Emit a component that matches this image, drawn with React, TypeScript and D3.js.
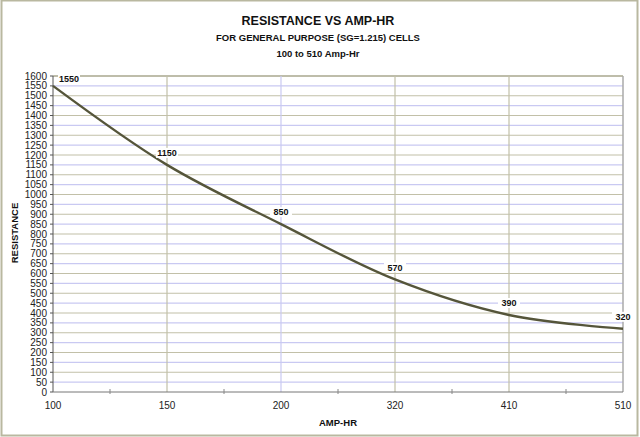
import React, { useEffect } from 'react'
import * as d3 from 'd3'

const categories = ['100', '150', '200', '320', '410', '510']
const resistance = [1550, 1150, 850, 570, 390, 320]
const yTicks = d3.range(0, 1601, 50)

const width = 640
const height = 437
const margin = { left: 53, right: 17, top: 76, bottom: 45 }

const font = '"Liberation Sans", Arial, sans-serif'
const gray = '#c2c0a8'
const blue = '#c9c9f2'

export default function App() {
  useEffect(() => {
    document.body.style.margin = '0'
  }, [])

  const x = d3.scalePoint<string>()
    .domain(categories)
    .range([margin.left, width - margin.right])
  const y = d3.scaleLinear()
    .domain([0, 1600])
    .range([height - margin.bottom, margin.top])

  const points: [number, number][] = categories.map((c, i) => [x(c)!, y(resistance[i])])
  const line = d3.line().curve(d3.curveCatmullRom.alpha(0.5))
  const step = x.step()
  const x0 = margin.left
  const x1 = width - margin.right
  const y0 = height - margin.bottom
  const y1 = margin.top

  return (
    <svg width={width} height={height} style={{ display: 'block', fontFamily: font }}>
      <rect x={0} y={0} width={width} height={height} fill='white' />
      <rect x={1.5} y={0.5} width={636} height={435} fill='none' stroke='#b9b8a0' strokeWidth={2} />

      <text x={318} y={25} textAnchor='middle' fontSize={12.5} fontWeight='bold' fill='#111'>RESISTANCE VS AMP-HR</text>
      <text x={318} y={41} textAnchor='middle' fontSize={9.5} fontWeight='bold' fill='#111'>FOR GENERAL PURPOSE (SG=1.215) CELLS</text>
      <text x={318} y={57} textAnchor='middle' fontSize={9.5} fontWeight='bold' fill='#111'>100 to 510 Amp-Hr</text>

      {/* horizontal grid */}
      {yTicks.filter(t => t > 0).map(t => (
        <line key={t} x1={x0} x2={x1} y1={y(t)} y2={y(t)}
          stroke={t === 1600 ? '#a9a78e' : t % 100 === 0 ? gray : blue} strokeWidth={t === 1600 ? 1.5 : 1.2} />
      ))}

      {/* vertical grid */}
      {categories.slice(1).map((c, i) => (
        <line key={c} x1={x(c)} x2={x(c)} y1={y1} y2={y0}
          stroke={i === categories.length - 2 ? '#aaaaaa' : i === 1 ? blue : gray} strokeWidth={i === categories.length - 2 ? 1.5 : 1.2} />
      ))}

      {/* axes */}
      <line x1={x0} x2={x0} y1={y1} y2={y0} stroke='#555' strokeWidth={1} />
      <line x1={x0} x2={x1} y1={y0} y2={y0} stroke='#777' strokeWidth={1} />
      {yTicks.map(t => (
        <g key={t}>
          <line x1={x0 - 3} x2={x0} y1={y(t)} y2={y(t)} stroke='#555' />
          <text x={x0 - 6} y={y(t)} dy='0.35em' textAnchor='end' fontSize={10} fill='#222'>{t}</text>
        </g>
      ))}
      {categories.map((c, i) => (
        <g key={c}>
          {i < categories.length - 1 && (
            <line x1={x(c)! + step / 2} x2={x(c)! + step / 2} y1={y0 - 3} y2={y0 + 2} stroke='#888' />
          )}
          <text x={x(c)} y={y0 + 17} textAnchor='middle' fontSize={10} fill='#222'>{c}</text>
        </g>
      ))}

      <text x={338} y={426} textAnchor='middle' fontSize={9.5} fontWeight='bold' fill='#111'>AMP-HR</text>
      <text transform={`translate(18, 233) rotate(-90)`} textAnchor='middle' fontSize={9.5} fontWeight='bold' fill='#111'>RESISTANCE</text>

      <path d={line(points)!} fill='none' stroke='#55553a' strokeWidth={2.4} strokeLinejoin='round' />

      {/* data labels */}
      {categories.map((c, i) => {
        const lx = i === 0 ? x(c)! + 16 : x(c)!
        const ly = i === 0 ? y(resistance[i]) - 7 : y(resistance[i]) - 12
        return (
          <g key={c}>
            <rect x={lx - 11} y={ly - 5} width={22} height={10} fill='white' />
            <text x={lx} y={ly} dy='0.35em' textAnchor='middle' fontSize={9} fontWeight='bold' fill='#111'>{resistance[i]}</text>
          </g>
        )
      })}
    </svg>
  )
}
